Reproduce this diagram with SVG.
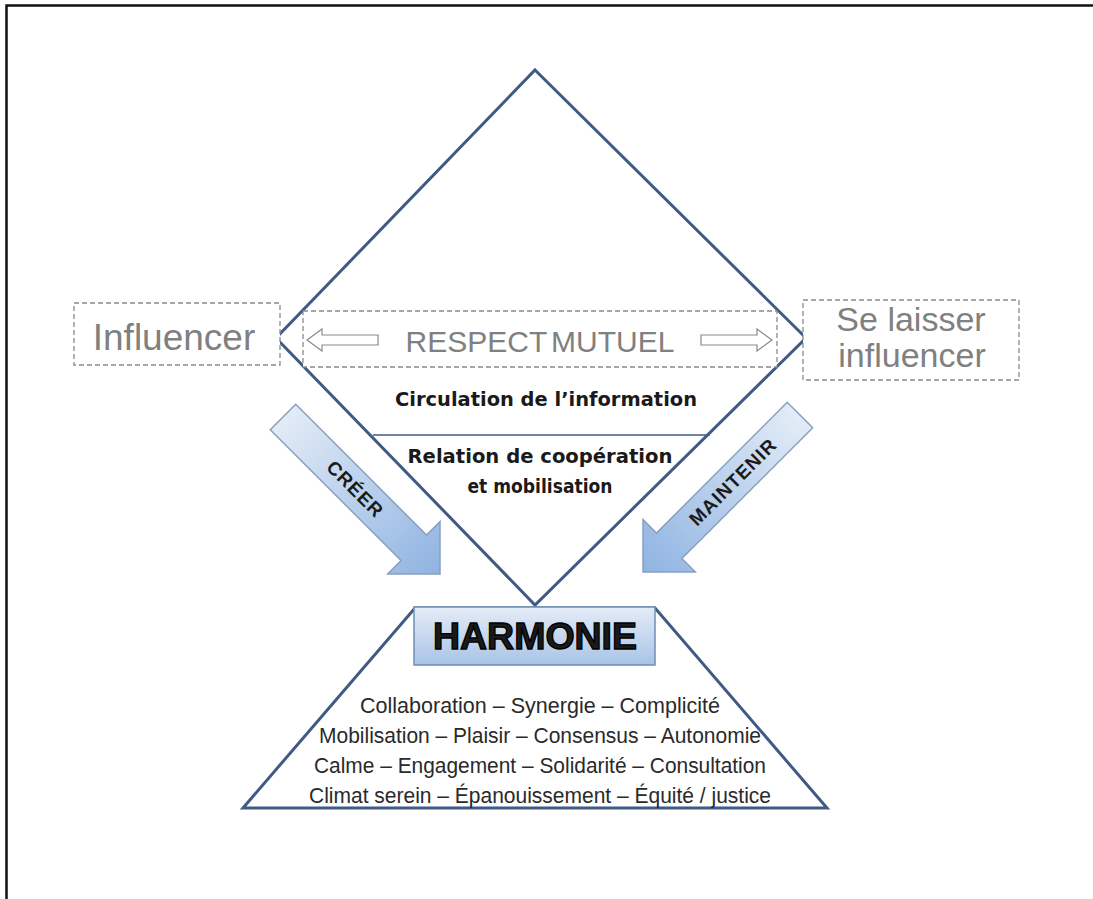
<svg xmlns="http://www.w3.org/2000/svg" width="1093" height="899" viewBox="0 0 1093 899">
<defs>
<linearGradient id="arrowGrad" gradientUnits="userSpaceOnUse" x1="-222" y1="0" x2="0" y2="0">
<stop offset="0" stop-color="#e3ecf7"/>
<stop offset="1" stop-color="#8fb3e2"/>
</linearGradient>
<linearGradient id="boxGrad" x1="0" y1="0" x2="0" y2="1">
<stop offset="0" stop-color="#e4ecf7"/>
<stop offset="1" stop-color="#a9c3e6"/>
</linearGradient>
</defs>
<style>
.frame{fill:none;stroke:#111;stroke-width:2.5}
.dash{fill:#fff;stroke:#8a8a8a;stroke-width:1.3;stroke-dasharray:5 3}
.shape{fill:none;stroke:#3f5b84;stroke-width:3;stroke-linejoin:miter}
.grey{font-family:"Liberation Sans",Arial,sans-serif;fill:#808080;text-anchor:middle}
.bold{font-family:"Liberation Sans",Arial,sans-serif;font-weight:bold;fill:#1a1a1a;text-anchor:middle}
.vb{font-family:"DejaVu Sans",Verdana,sans-serif;font-weight:bold;fill:#1a1a1a;text-anchor:middle;font-size:19.5px}
.list{font-family:"Liberation Sans",Arial,sans-serif;fill:#2a2a2a;text-anchor:middle;font-size:22px}
.hollow{fill:#fff;stroke:#8a8a8a;stroke-width:1.2}
.barrow{fill:url(#arrowGrad);stroke:#8aa0bb;stroke-width:1.5}
</style>
<rect width="1093" height="899" fill="#fff"/>
<g id="frame">
<path class="frame" d="M6.5,899 V5.5 H1093"/>
</g>
<g id="diamond">
<polygon class="shape" points="535,70 806,338 535,605 276,338"/>
<line x1="373" y1="435" x2="710" y2="435" stroke="#3f5b84" stroke-width="1.5"/>
<text class="vb" x="546" y="406" textLength="302" lengthAdjust="spacingAndGlyphs">Circulation de l’information</text>
<text class="vb" x="540" y="463" textLength="265" lengthAdjust="spacingAndGlyphs">Relation de coopération</text>
<text class="vb" x="540" y="493" textLength="145" lengthAdjust="spacingAndGlyphs">et mobilisation</text>
</g>
<g id="influencer">
<rect class="dash" x="74" y="303" width="206" height="62"/>
<text class="grey" x="174" y="350" font-size="37">Influencer</text>
</g>
<g id="respect">
<rect class="dash" x="303" y="311" width="474" height="56"/>
<polygon class="hollow" points="307,340 322,329 322,335 378,335 378,345 322,345 322,351"/>
<polygon class="hollow" points="772,340 757,329 757,335 701,335 701,345 757,345 757,351"/>
<text class="grey" x="540" y="352" font-size="30" word-spacing="-4">RESPECT MUTUEL</text>
</g>
<g id="selaisser">
<rect class="dash" x="803" y="300" width="216" height="80"/>
<text class="grey" x="911" y="331" font-size="34">Se laisser</text>
<text class="grey" x="912" y="367" font-size="34">influencer</text>
</g>
<g id="connectors">
<g id="creer" transform="translate(440,574) rotate(45)">
<polygon class="barrow" points="-222,-18 -37,-18 -37,-37 0,0 -37,37 -37,18 -222,18"/>
<text class="bold" x="-120" y="6.5" font-size="19" letter-spacing="1">CRÉER</text>
</g>
<g id="maintenir">
<polygon class="barrow" transform="translate(643,572) rotate(135)" points="-222,-18 -37,-18 -37,-37 0,0 -37,37 -37,18 -222,18"/>
<text class="bold" transform="translate(733,482) rotate(-45)" x="0" y="6.5" font-size="19" letter-spacing="1">MAINTENIR</text>
</g>
</g>
<g id="harmonie">
<polygon class="shape" points="243,808 415,608 655,608 827,808"/>
<rect x="414" y="607" width="241" height="58" fill="url(#boxGrad)" stroke="#6f8db5" stroke-width="1.5"/>
<text class="bold" x="535" y="649" font-size="36" fill="#000" stroke="#000" stroke-width="1.3" textLength="204" lengthAdjust="spacingAndGlyphs">HARMONIE</text>
<text class="list" x="540" y="713" textLength="360" lengthAdjust="spacingAndGlyphs">Collaboration – Synergie – Complicité</text>
<text class="list" x="540" y="743" textLength="442" lengthAdjust="spacingAndGlyphs">Mobilisation – Plaisir – Consensus – Autonomie</text>
<text class="list" x="540" y="773" textLength="452" lengthAdjust="spacingAndGlyphs">Calme – Engagement  – Solidarité – Consultation</text>
<text class="list" x="540" y="803" textLength="462" lengthAdjust="spacingAndGlyphs">Climat serein – Épanouissement  – Équité / justice</text>
</g>
</svg>
